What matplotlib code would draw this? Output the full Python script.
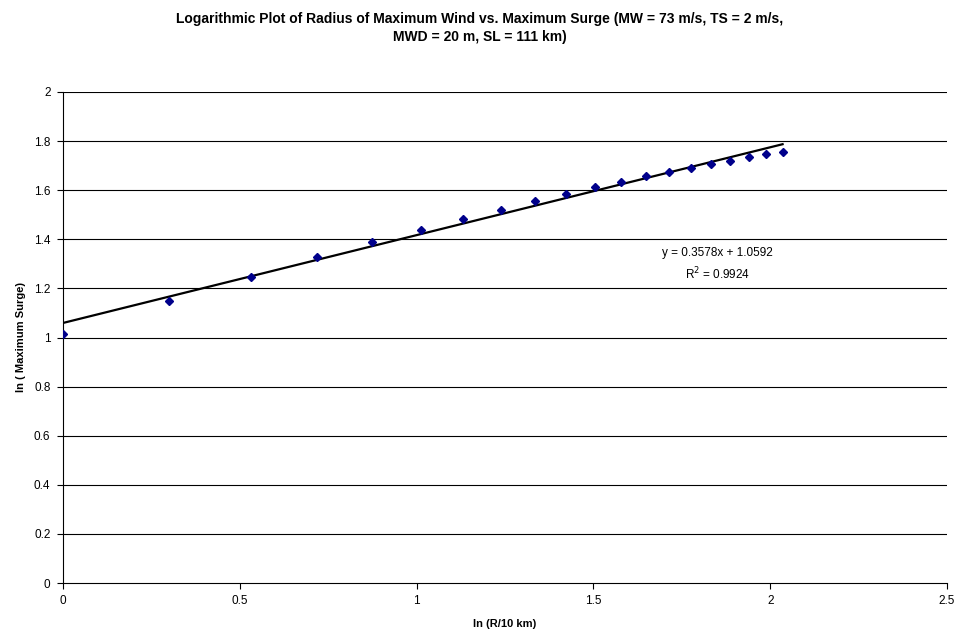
import matplotlib
matplotlib.use("Agg")
import matplotlib.pyplot as plt
import numpy as np

plt.rcParams['font.family'] = ['Liberation Sans', 'DejaVu Sans']

# ln(R/10 km) and ln(maximum surge)
ln_r = [0.000, 0.300, 0.531, 0.718, 0.875, 1.012, 1.131, 1.238, 1.335, 1.423,
        1.504, 1.579, 1.649, 1.714, 1.775, 1.833, 1.887, 1.939, 1.988, 2.035]
ln_surge = [1.016, 1.149, 1.247, 1.326, 1.388, 1.439, 1.483, 1.521, 1.557, 1.585,
            1.613, 1.635, 1.657, 1.674, 1.692, 1.706, 1.720, 1.734, 1.746, 1.756]

# linear trendline coefficients
slope = 0.3578
intercept = 1.0592
r_squared = 0.9924

x_ticks = [0, 0.5, 1, 1.5, 2, 2.5]
x_tick_labels = ['0', '0.5', '1', '1.5', '2', '2.5']
y_ticks = [0, 0.2, 0.4, 0.6, 0.8, 1, 1.2, 1.4, 1.6, 1.8, 2]
y_tick_labels = ['0', '0.2', '0.4', '0.6', '0.8', '1', '1.2', '1.4', '1.6', '1.8', '2']

fig = plt.figure(figsize=(9.59, 6.4), dpi=100)
ax = fig.add_axes([63 / 959, 1 - 583 / 640, (947 - 63) / 959, (583 - 92) / 640])

ax.set_xlim(0, 2.5)
ax.set_ylim(0, 2)
ax.set_yticks(y_ticks)
ax.set_yticklabels(y_tick_labels)
ax.set_xticks(x_ticks)
ax.set_xticklabels(x_tick_labels)

for y in y_ticks[1:]:
    ax.axhline(y, color='black', linewidth=0.8, zorder=1)

ax.spines['top'].set_visible(False)
ax.spines['right'].set_visible(False)
for s in ('left', 'bottom'):
    ax.spines[s].set_color('black')
    ax.spines[s].set_linewidth(0.8)

ax.tick_params(axis='both', direction='out', length=4, width=0.8,
               labelsize=8.5, colors='black', pad=5)

x_line = np.array([0, max(ln_r)])
ax.plot(x_line, slope * x_line + intercept, color='black', linewidth=1.6, zorder=2)

ax.plot(ln_r, ln_surge, linestyle='none', marker='D', markersize=4.2,
        color='#00008B', markeredgecolor='#00008B', zorder=3)

ax.text(1.85, 1.345, f'y = {slope}x + {intercept}', fontsize=8.5, ha='center', va='center')
ax.text(1.85, 1.26, f'R$^2$ = {r_squared}', fontsize=8.5, ha='center', va='center')

ax.set_xlabel('ln (R/10 km)', fontsize=8, fontweight='bold', labelpad=8)
ax.set_ylabel('ln ( Maximum Surge)', fontsize=8, fontweight='bold', labelpad=6)

fig.text(0.5, 1 - 28 / 640,
         'Logarithmic Plot of Radius of Maximum Wind vs. Maximum Surge (MW = 73 m/s, TS = 2 m/s,\nMWD = 20 m, SL = 111 km)',
         ha='center', va='center', fontsize=10, fontweight='bold', linespacing=1.45)

fig.savefig('out.png', dpi=100)
